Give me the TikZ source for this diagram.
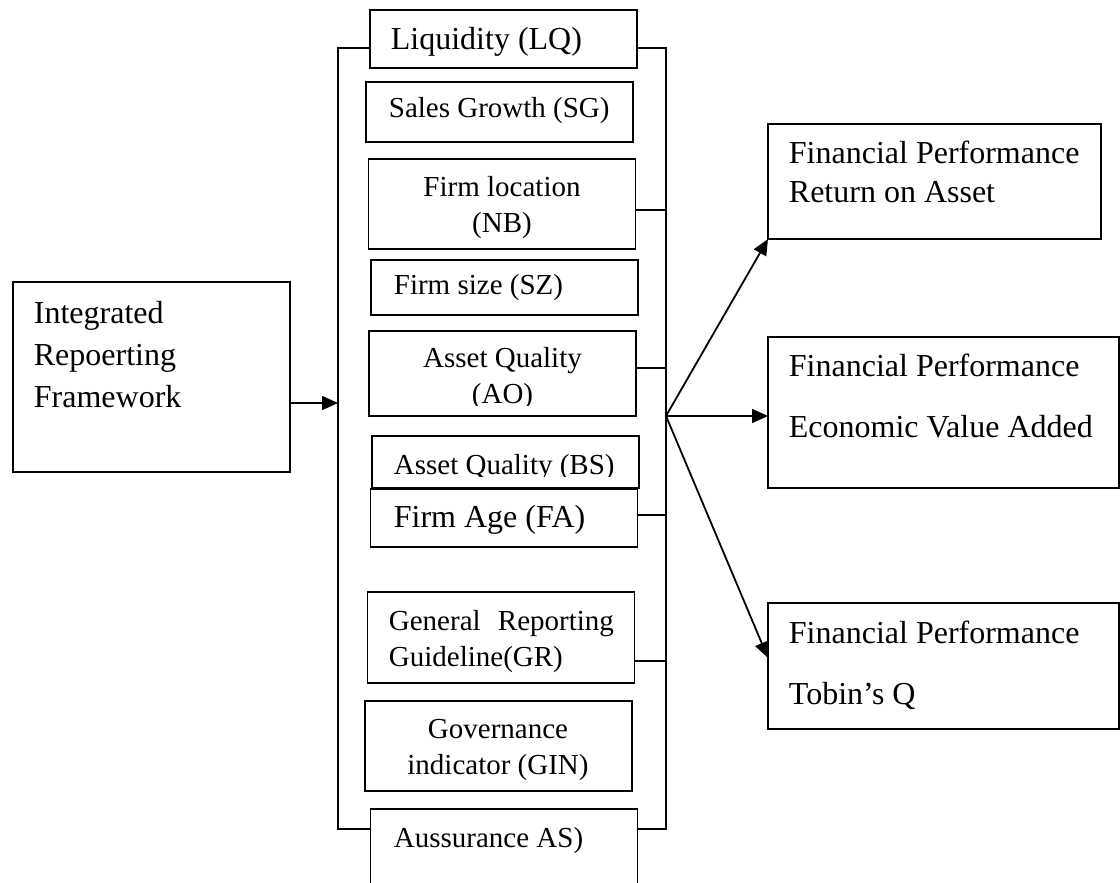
\documentclass[tikz,border=0pt]{standalone}
\usepackage{fontspec}
\setmainfont{Liberation Serif}
\usetikzlibrary{arrows.meta}

\tikzset{
  box/.style={draw, rectangle, fill=white, inner sep=0pt, outer sep=0pt},
  bigtxt/.style={font=\fontsize{16}{21}\selectfont, inner sep=0pt},
  smalltxt/.style={font=\fontsize{14.5}{18}\selectfont, inner sep=0pt},
  link/.style={-{Triangle[length=8pt,width=7pt]}},
}

\begin{document}
\begin{tikzpicture}[x=0.5pt, y=-0.5pt, line width=0.9pt]
  \clip (0,0) rectangle (1120,883);

  % bracket round the factors
  \coordinate (lt)  at (338,48);
  \coordinate (lb)  at (338,829);
  \coordinate (rt)  at (666,48);
  \coordinate (rb)  at (666,829);
  \coordinate (hub) at (666,416);

  % input
  \node[box, minimum width=138.5pt, minimum height=95pt] (irf) at (151.5,377) {};

  % factors
  \begin{scope}[every node/.style={box, minimum width=133.5pt}]
    \node[minimum height=29pt]   (lq)  at (503.5,39)  {};
    \node[minimum height=30pt]   (sg)  at (499.5,112) {};
    \node[minimum height=45pt]   (nb)  at (502,204)   {};
    \node[minimum height=27.5pt] (sz)  at (504.5,287.5) {};
    \node[minimum height=42.5pt] (ao)  at (502.5,373.5) {};
    \node[minimum height=26pt]   (bs)  at (505.5,462) {};
    \node[minimum height=29pt]   (fa)  at (504,518)   {};
    \node[minimum height=45.5pt] (gr)  at (501,637.5) {};
    \node[minimum height=45pt]   (gin) at (498.5,746) {};
    \node[minimum height=44pt]   (as)  at (504,853)   {};
  \end{scope}

  % outcomes
  \begin{scope}[every node/.style={box}]
    \node[minimum width=166.5pt, minimum height=57.5pt] (roa) at (934.5,181.5) {};
    \node[minimum width=175.5pt, minimum height=75.5pt] (eva) at (943.5,412.5) {};
    \node[minimum width=175.5pt, minimum height=63pt]   (tq)  at (943.5,666)   {};
  \end{scope}

  \draw (lq.west |- lt) -- (lt) -- (lb) -- (as.west |- lb);
  \draw (lq.east |- rt) -- (rt) -- (rb) -- (as.east |- rb);
  \foreach \f/\y in {nb/210, ao/368, fa/515, gr/661}
    \draw (\f.east |- 0,\y) -- (hub |- 0,\y);

  \draw[link] (irf.east |- 0,403) -- (lt |- 0,403);
  \draw[link] (hub) -- (roa.south west);
  \draw[link] (hub) -- (eva.west |- hub);
  \draw[link] (hub) -- (tq.west |- 0,658);

  % texts (base = last line)
  \node[bigtxt, anchor=base west, align=left] (irft) at (33,407) {Integrated\\Repoerting\\Framework};
  \node[bigtxt, anchor=base west]   (lqt)  at (390,50)  {Liquidity (LQ)};
  \node[smalltxt, anchor=base west] (sgt)  at (388,118) {Sales Growth (SG)};
  \node[smalltxt, anchor=base, align=center] (nbt) at (502,233) {Firm location\\(NB)};
  \node[smalltxt, anchor=base west] (szt)  at (393,294) {Firm size (SZ)};
  \begin{scope}
    \clip (369,331) rectangle (636,405);
    \node[smalltxt, anchor=base, align=center] (aot) at (502.5,403) {Asset Quality\\(AO)};
  \end{scope}
  \begin{scope}
    \clip (372,436) rectangle (639,476);
    \node[smalltxt, anchor=base west] (bst) at (393,474) {Asset Quality (BS)};
  \end{scope}
  \node[bigtxt, anchor=base west]   (fat)  at (393,527) {Firm Age (FA)};
  \node[smalltxt, anchor=base west, align=left] (grt) at (388,666) {\hbox to 112.5pt{General\hfill Reporting}\\Guideline(GR)};
  \node[smalltxt, anchor=base, align=center] (gint) at (498,774) {Governance\\indicator (GIN)};
  \node[smalltxt, anchor=base west] (ast)  at (393,847) {Aussurance AS)};
  \node[bigtxt, anchor=base west, align=left] (roat) at (788,203) {Financial Performance\\[-1pt]Return on Asset};
  \node[bigtxt, anchor=base west, align=left] (evat) at (788,437) {Financial Performance\\[9.5pt]Economic Value Added};
  \node[bigtxt, anchor=base west, align=left] (tqt)  at (788,704) {Financial Performance\\[9.5pt]Tobin's Q};
\end{tikzpicture}
\end{document}
